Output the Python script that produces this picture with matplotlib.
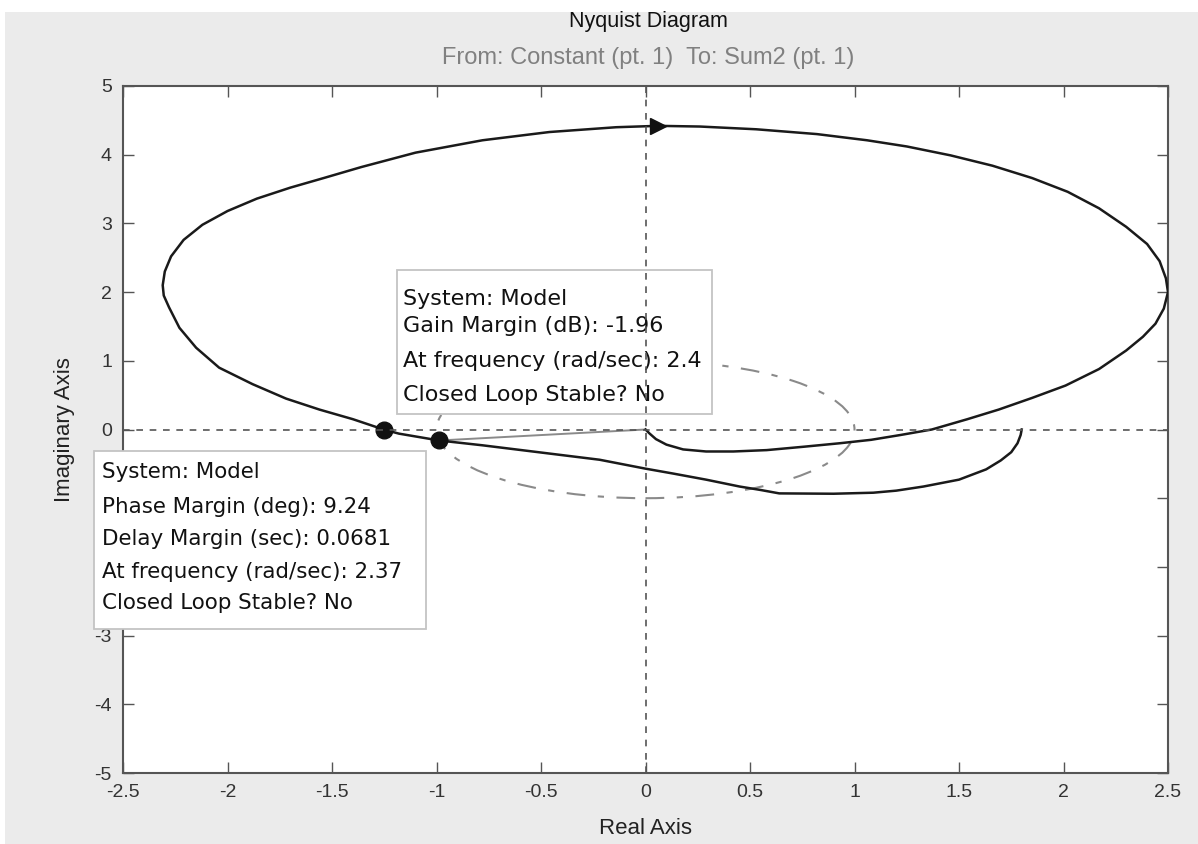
import numpy as np
import matplotlib.pyplot as plt
from matplotlib.patches import Rectangle, Circle

plt.rcParams['font.family'] = ['Liberation Sans', 'DejaVu Sans']
plt.rcParams['axes.unicode_minus'] = False

# Nyquist curve (positive frequencies), real and imaginary parts
re_g = [1.80, 1.795, 1.78, 1.75, 1.70, 1.63, 1.50, 1.33, 1.20, 1.09, 0.90, 0.64, 0.55,
        0.45, 0.29, 0.13, 0.00, -0.22, -0.54, -0.78, -0.987, -1.18, -1.253,
        -1.40, -1.56, -1.72, -1.88, -2.04, -2.15, -2.23, -2.28, -2.305, -2.31, -2.30,
        -2.27, -2.21, -2.12, -2.00, -1.86, -1.70, -1.54, -1.36, -1.10, -0.78, -0.46, -0.14,
        0.06, 0.26, 0.53, 0.82, 1.06, 1.25, 1.46, 1.66, 1.85, 2.02, 2.17, 2.30, 2.40,
        2.46, 2.49, 2.50, 2.48, 2.44, 2.38, 2.30, 2.17, 2.01, 1.85, 1.69, 1.54, 1.37,
        1.22, 1.08, 0.93, 0.76, 0.58, 0.42, 0.29, 0.18, 0.10, 0.05, 0.02, 0.00]
im_g = [0.00, -0.08, -0.20, -0.33, -0.45, -0.58, -0.73, -0.83, -0.89, -0.92, -0.935,
        -0.93, -0.88, -0.83, -0.73, -0.64, -0.57, -0.44, -0.32, -0.23, -0.16,
        -0.06, 0.00, 0.15, 0.29, 0.45, 0.66, 0.90, 1.19, 1.48, 1.78, 1.95, 2.10, 2.30,
        2.52, 2.76, 2.98, 3.18, 3.36, 3.52, 3.66, 3.82, 4.03, 4.21, 4.33, 4.40,
        4.42, 4.41, 4.37, 4.30, 4.21, 4.12, 3.99, 3.84, 3.66, 3.46, 3.22, 2.95, 2.70,
        2.45, 2.20, 2.00, 1.76, 1.54, 1.35, 1.15, 0.88, 0.64, 0.46, 0.29, 0.15, 0.00,
        -0.08, -0.15, -0.20, -0.25, -0.30, -0.32, -0.32, -0.29, -0.22, -0.14, -0.06, 0.00]

# stability margins
gm_point = (-1.253, 0.0)
pm_point = (-0.987, -0.16)
arrow_point = (0.06, 4.42)

x_ticks = [-2.5, -2, -1.5, -1, -0.5, 0, 0.5, 1, 1.5, 2, 2.5]
x_ticklabels = ['-2.5', '-2', '-1.5', '-1', '-0.5', '0', '0.5', '1', '1.5', '2', '2.5']
y_ticks = [-5, -4, -3, -2, -1, 0, 1, 2, 3, 4, 5]

gm_text = ['System: Model', 'Gain Margin (dB): -1.96',
           'At frequency (rad/sec): 2.4', 'Closed Loop Stable? No']
pm_text = ['System: Model', 'Phase Margin (deg): 9.24', 'Delay Margin (sec): 0.0681',
           'At frequency (rad/sec): 2.37', 'Closed Loop Stable? No']

W, H = 1198, 844
fig = plt.figure(figsize=(W / 100, H / 100), dpi=100, facecolor='white')
# grey window background with thin white border at top/left
fig.patches.append(Rectangle((5 / W, 0), 1, 1 - 12 / H, transform=fig.transFigure,
                             facecolor='#ebebeb', edgecolor='none', zorder=-10))

ax = fig.add_axes([123 / W, (H - 773) / H, 1045 / W, 687 / H])
ax.set_xlim(-2.5, 2.5)
ax.set_ylim(-5, 5)
ax.set_facecolor('white')

ax.set_xticks(x_ticks)
ax.set_xticklabels(x_ticklabels)
ax.set_yticks(y_ticks)
ax.tick_params(direction='in', length=8, width=1, colors='#555555', top=True, right=True,
               labelsize=14, labelcolor='#333333', pad=8)
for s in ax.spines.values():
    s.set_color('#555555')
    s.set_linewidth(1.5)

# unit circle
ax.add_patch(Circle((0, 0), 1.0, fill=False, edgecolor='#8a8a8a', linewidth=1.5,
                    linestyle=(0, (9, 6, 3, 6)), zorder=2))

# main curve
ax.plot(re_g, im_g, color='#1a1a1a', linewidth=1.8, zorder=3)
ax.plot([0, pm_point[0]], [0, pm_point[1]], color='#8a8a8a', linewidth=1.4, zorder=2)
ax.plot(*arrow_point, marker='>', markersize=12, color='#111111', zorder=4)
ax.plot(*gm_point, marker='o', markersize=12, color='#111111', zorder=4)
ax.plot(*pm_point, marker='o', markersize=12, color='#111111', zorder=4)

# data tip boxes
def data_tip(x0, y0, x1, y1, lines, tx, ty, fs):
    ax.add_patch(Rectangle((x0, y1), x1 - x0, y0 - y1, facecolor='white',
                           edgecolor='#c4c4c4', linewidth=1.3, clip_on=False, zorder=5))
    for t, yy in zip(lines, ty):
        ax.text(tx, yy, t, fontsize=fs, family='DejaVu Sans', color='#111111',
                va='center', ha='left', zorder=6, clip_on=False)

data_tip(-1.19, 2.32, 0.32, 0.22, gm_text, -1.16, [1.90, 1.50, 0.99, 0.50], 16)
data_tip(-2.64, -0.31, -1.05, -2.90, pm_text, -2.60, [-0.62, -1.13, -1.60, -2.08, -2.52], 15.4)

# zero lines
ax.axhline(0, color='#555555', linewidth=1.2, linestyle=(0, (4, 4)), zorder=7)
ax.axvline(0, color='#555555', linewidth=1.2, linestyle=(0, (4, 4)), zorder=7)

ax.set_xlabel('Real Axis', fontsize=16, color='#222222', labelpad=12)
ax.set_ylabel('Imaginary Axis', fontsize=16, color='#222222', labelpad=14)
fig.text(648 / W, 1 - 22 / H, 'Nyquist Diagram', ha='center', va='center',
         fontsize=15.5, color='#111111')
fig.text(648 / W, 1 - 58 / H, 'From: Constant (pt. 1)  To: Sum2 (pt. 1)', ha='center', va='center',
         fontsize=17, color='#808080')

fig.savefig('out.png', dpi=100, facecolor=fig.get_facecolor())
